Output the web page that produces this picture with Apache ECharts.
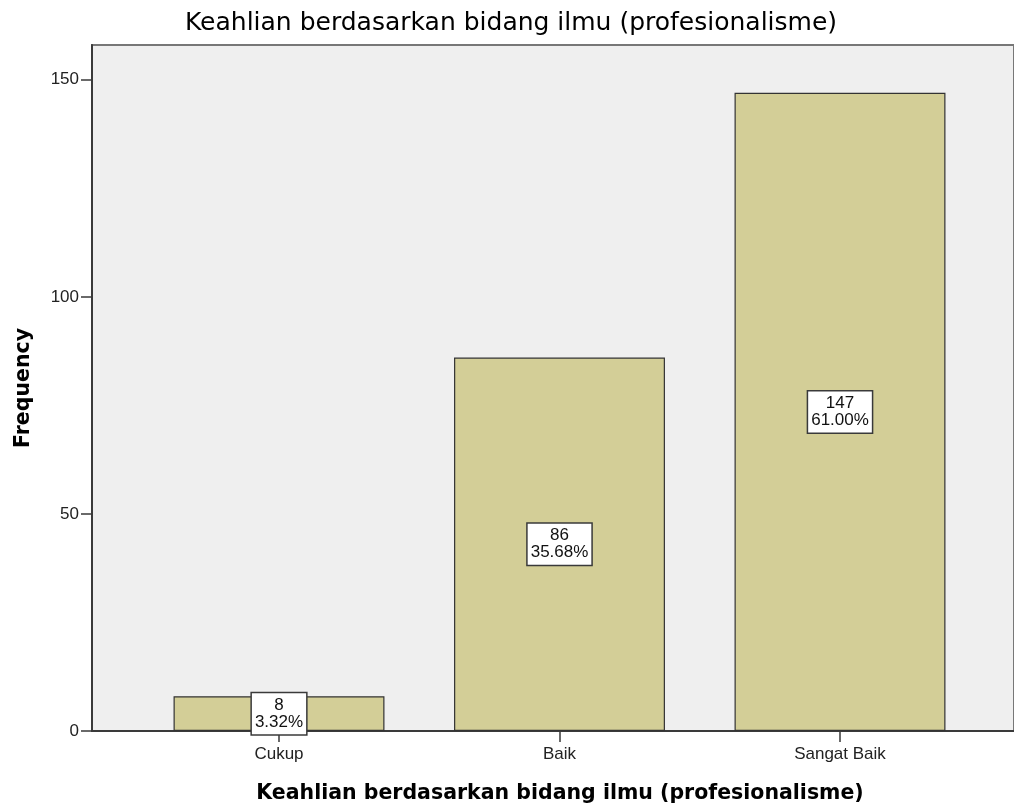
<!DOCTYPE html>
<html>
<head>
<meta charset="utf-8">
<script src="https://cdn.jsdelivr.net/npm/echarts@6/dist/echarts.min.js"></script>
<style>html,body{margin:0;padding:0;background:#fff}#c{width:1014px;height:806px}</style>
</head>
<body>
<div id="c"></div>
<script>
var categories = ['Cukup', 'Baik', 'Sangat Baik'];
var frequencies = [8, 86, 147];
var percentLabels = ['3.32%', '35.68%', '61.00%'];
var yTicks = [0, 50, 100, 150];
var chartTitle = 'Keahlian berdasarkan bidang ilmu (profesionalisme)';
var xTitle = 'Keahlian berdasarkan bidang ilmu (profesionalisme)';
var yTitle = 'Frequency';

var chart = echarts.init(document.getElementById('c'), null, {renderer: 'canvas'});
var YMAX = 158;
var option = {
  backgroundColor: '#ffffff',
  animation: false,
  title: [
    {text: chartTitle, left: 511, top: 11, textAlign: 'center', padding: 0,
     textStyle: {fontFamily: 'DejaVu Sans', fontSize: 25, fontWeight: 'normal', color: '#000'}},
    {text: xTitle, left: 560, top: 783, textAlign: 'center', padding: 0,
     textStyle: {fontFamily: 'DejaVu Sans', fontSize: 20.5, fontWeight: 'bold', color: '#000'}}
  ],
  grid: [
    {left: 92, top: 45, width: 940, bottom: 75, show: true, backgroundColor: '#efefef',
     borderColor: '#777777', borderWidth: 2},
    {left: 138.75, right: 33.75, top: 45, bottom: 75}
  ],
  xAxis: [
    {gridIndex: 0, type: 'value', min: 0, max: 1, axisLine: {show: true, onZero: false, lineStyle: {color: '#3a3a3a', width: 2}},
     axisTick: {show: false}, axisLabel: {show: false}, splitLine: {show: false}},
    {gridIndex: 1, type: 'category', data: categories, boundaryGap: true,
     axisLine: {show: false}, axisTick: {show: true, alignWithLabel: true, length: 11, lineStyle: {color: '#3a3a3a', width: 1.5}},
     axisLabel: {margin: 15, fontFamily: 'Liberation Sans', fontSize: 17, color: '#222'}, splitLine: {show: false}}
  ],
  yAxis: [
    {gridIndex: 0, type: 'value', min: 0, max: YMAX,
     name: yTitle, nameLocation: 'middle', nameRotate: 90, nameGap: 58,
     nameTextStyle: {fontFamily: 'DejaVu Sans', fontSize: 20.5, fontWeight: 'bold', color: '#000'},
     axisLine: {show: true, lineStyle: {color: '#3a3a3a', width: 2}},
     axisTick: {show: true, length: 11, customValues: yTicks, lineStyle: {color: '#3a3a3a', width: 1.5}},
     axisLabel: {margin: 13, customValues: yTicks, fontFamily: 'Liberation Sans', fontSize: 17, color: '#222'},
     splitLine: {show: false}},
    {gridIndex: 1, type: 'value', min: 0, max: YMAX, show: false, splitLine: {show: false}}
  ],
  series: [{
    type: 'bar', xAxisIndex: 1, yAxisIndex: 1, data: frequencies, barWidth: '75.2%',
    itemStyle: {color: '#d3ce97', borderColor: '#333333', borderWidth: 1.2},
    label: {
      show: true, position: 'inside',
      formatter: function (p) { return p.value + '\n' + percentLabels[p.dataIndex]; },
      fontFamily: 'Liberation Sans', fontSize: 17, lineHeight: 17, color: '#111', align: 'center',
      backgroundColor: '#ffffff', borderColor: '#3a3a3a', borderWidth: 1.5, padding: [4, 3, 3, 3]
    }
  }]
};
chart.setOption(option);
</script>
</body>
</html>
